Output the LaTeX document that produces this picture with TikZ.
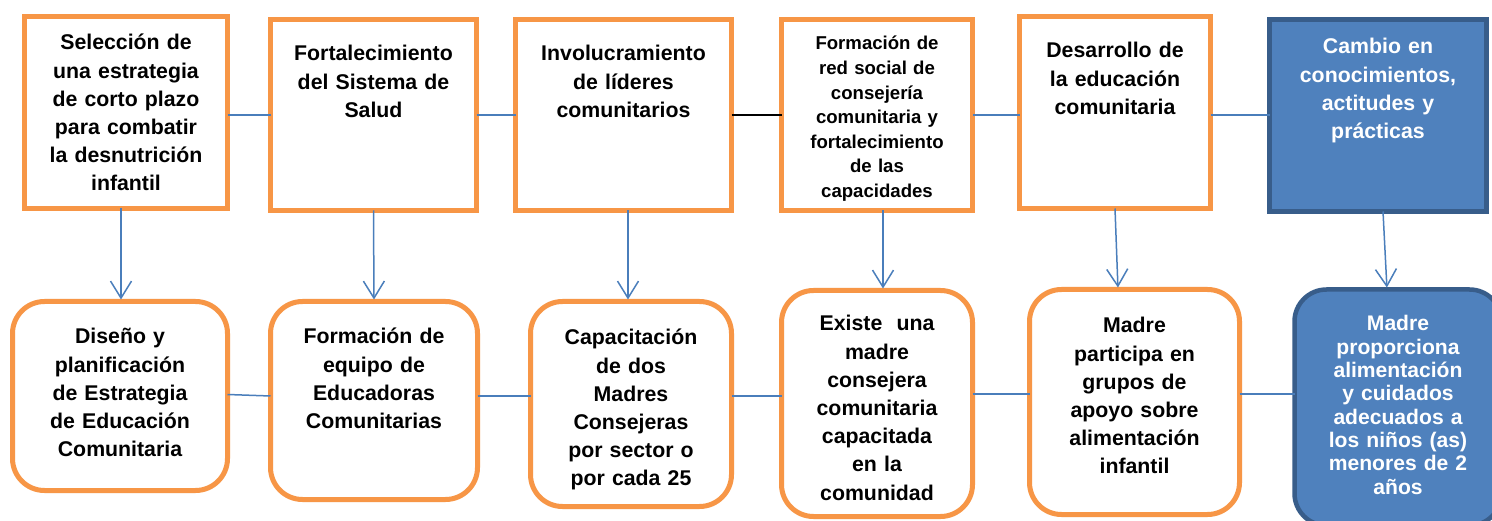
\documentclass[tikz,border=0pt]{standalone}
\usepackage{fontspec}
\setmainfont{Liberation Sans}
\usetikzlibrary{arrows.meta}
\definecolor{orng}{HTML}{F79646}
\definecolor{bfill}{HTML}{4F81BD}
\definecolor{bdark}{HTML}{385D8A}
\definecolor{connc}{HTML}{4A7EBB}
\newcommand\fsA{\bfseries\fontsize{21.3}{28.2}\selectfont}
\newcommand\fsB{\bfseries\fontsize{18.6}{24.6}\selectfont}
\newcommand\fsC{\bfseries\fontsize{21.1}{23.3}\selectfont}
\begin{document}
\lineskiplimit=-30pt\relax
\begin{tikzpicture}[x=1pt,y=-1pt,
  obox/.style={draw=orng, line width=5pt, fill=white, inner sep=0pt, outer sep=0pt},
  bbox/.style={draw=bdark, line width=4.5pt, fill=bfill, inner sep=0pt, outer sep=0pt},
  rnd/.style={rounded corners=32pt},
  lbl/.style={anchor=base, text width=230pt, align=center, inner sep=0pt, font=\fsA},
  lblsmall/.style={lbl, font=\fsB},
  lbltight/.style={lbl, font=\fsC},
  cline/.style={draw=connc, line width=1.5pt},
  arr/.style={cline, shorten >=2pt, -{Straight Barb[length=17pt,width=21pt]}}
]
\clip (0,0) rectangle (1492,521);
\fill[white] (0,0) rectangle (1492,521);

% top row
\node[obox, minimum width=203pt, minimum height=192pt] (T1) at (126,112.5) {};
\node[obox, minimum width=206pt, minimum height=191pt] (T2) at (373.5,115) {};
\node[obox, minimum width=216pt, minimum height=191pt] (T3) at (623.5,115) {};
\node[obox, minimum width=191pt, minimum height=191pt] (T4) at (877,115) {};
\node[obox, minimum width=191pt, minimum height=192pt] (T5) at (1115,112.5) {};
\node[bbox, minimum width=217pt, minimum height=192pt] (T6) at (1378,115.5) {};

% bottom row
\node[obox, rnd, minimum width=215pt, minimum height=189pt] (B1) at (120,396) {};
\node[obox, rnd, minimum width=207pt, minimum height=198pt] (B2) at (374,400.5) {};
\node[obox, rnd, minimum width=201pt, minimum height=205pt] (B3) at (631,404) {};
\node[obox, rnd, minimum width=191pt, minimum height=226pt] (B4) at (877,403.5) {};
\node[obox, rnd, minimum width=210pt, minimum height=225pt] (B5) at (1134.5,402) {};
\node[bbox, rnd, minimum width=207pt, minimum height=236pt] (B6) at (1398,407.5) {};

% labels top
\node[lbl] (L1) at (126,50) {Selección de\\una estrategia\\de corto plazo\\para combatir\\la desnutrición\\infantil};
\node[lbl] (L2) at (373.5,61) {Fortalecimiento\\del Sistema de\\Salud};
\node[lbl] (L3) at (623.5,61) {Involucramiento\\de líderes\\comunitarios};
\node[lblsmall] (L4) at (877,50) {Formación de\\red social de\\consejería\\comunitaria y\\fortalecimiento\\de las\\capacidades};
\node[lbl] (L5) at (1115,58) {Desarrollo de\\la educación\\comunitaria};
\node[lbl, text=white] (L6) at (1378,54) {Cambio en\\conocimientos,\\actitudes y\\prácticas};

% labels bottom
\node[lbl] (M1) at (120,344) {Diseño y\\planificación\\de Estrategia\\de Educación\\Comunitaria};
\node[lbl] (M2) at (374,344) {Formación de\\equipo de\\Educadoras\\Comunitarias};
\node[lbl] (M3) at (631,345) {Capacitación\\de dos\\Madres\\Consejeras\\por sector o\\por cada 25};
\node[lbl] (M4) at (877,331) {Existe\ \ una\\madre\\consejera\\comunitaria\\capacitada\\en la\\comunidad};
\node[lbl] (M5) at (1134.5,333) {Madre\\participa en\\grupos de\\apoyo sobre\\alimentación\\infantil};
\node[lbltight, text=white] (M6) at (1398,331) {Madre\\proporciona\\alimentación\\y cuidados\\adecuados a\\los niños (as)\\menores de 2\\años};

% top connectors
\draw[cline] (T1.east |- 0,115) -- (T2.west |- 0,115);
\draw[cline] (T2.east |- 0,115) -- (T3.west |- 0,115);
\draw[draw=black, line width=1.5pt] (T3.east |- 0,115) -- (T4.west |- 0,115);
\draw[cline] (T4.east |- 0,115) -- (T5.west |- 0,115);
\draw[cline] (T5.east |- 0,115) -- (T6.west |- 0,115);

% bottom connectors
\draw[cline] (B1.east |- 0,394.5) -- (B2.west |- 0,396);
\draw[cline] (B2.east |- 0,396) -- (B3.west |- 0,396);
\draw[cline] (B3.east |- 0,396) -- (B4.west |- 0,396);
\draw[cline] (B4.east |- 0,394) -- (B5.west |- 0,394);
\draw[cline] (B5.east |- 0,394) -- (B6.west |- 0,394);

% vertical arrows
\draw[arr] ([xshift=-5pt]T1.south) -- ([xshift=1pt]B1.north);
\draw[arr] (T2.south) -- (B2.north);
\draw[arr] ([xshift=4.5pt]T3.south) -- ([xshift=-3pt]B3.north);
\draw[arr] ([xshift=6pt]T4.south) -- ([xshift=6pt]B4.north);
\draw[arr] (T5.south) -- ([xshift=-16.5pt]B5.north);
\draw[arr] ([xshift=5pt]T6.south) -- ([xshift=-11pt]B6.north);
\end{tikzpicture}
\end{document}
